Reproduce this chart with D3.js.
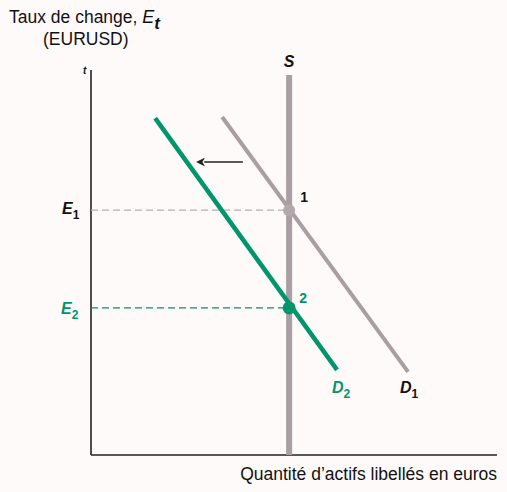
<!DOCTYPE html>
<html><head><meta charset="utf-8">
<script src="https://cdn.jsdelivr.net/npm/d3@7"></script>
<style>body{margin:0;background:#fffafa;}svg{display:block;}text{font-family:"Liberation Sans",Arial,sans-serif;}</style>
</head><body><svg id="c" width="507" height="492"></svg>
<script>
// Data (abstract units 0-100)
const supplyX = 48.8;               // vertical supply S
const supplyTop = 98.7;
const demand1 = [[32.3, 87.8], [78.1, 21.6]];
const demand2 = [[15.8, 87.5], [60.6, 22.1]];
const equilibria = [{name: "E1", label: "1", y: 63.6, color: "#b8aeb1", text: "#111"},
                    {name: "E2", label: "2", y: 38.2, color: "#00956b", text: "#00956b"}];
const shiftArrow = [[37.4, 76.1], [26.4, 76.1]];

const svg = d3.select("#c");
const x = d3.scaleLinear().domain([0, 100]).range([91, 497]);
const y = d3.scaleLinear().domain([0, 100]).range([455, 70]);
const grey = "#a89ea3", green = "#00956b";

// axes
svg.append("line").attr("x1", x(0)).attr("x2", x(0)).attr("y1", y(100)).attr("y2", y(0)).attr("stroke", "#222").attr("stroke-width", 1.6);
svg.append("line").attr("x1", x(0)).attr("x2", x(100)).attr("y1", y(0)).attr("y2", y(0)).attr("stroke", "#222").attr("stroke-width", 1.6);

// dashed guides
equilibria.forEach(e => {
  svg.append("line").attr("x1", x(0)).attr("x2", x(supplyX)).attr("y1", y(e.y)).attr("y2", y(e.y))
    .attr("stroke", e.color).attr("stroke-width", 1.3).attr("stroke-dasharray", "7,4");
});

// supply
svg.append("line").attr("x1", x(supplyX)).attr("x2", x(supplyX)).attr("y1", y(supplyTop)).attr("y2", y(0))
  .attr("stroke", grey).attr("stroke-width", 6);

const line = d3.line().x(d => x(d[0])).y(d => y(d[1]));
svg.append("path").attr("d", line(demand1)).attr("stroke", grey).attr("stroke-width", 4).attr("fill", "none");
svg.append("path").attr("d", line(demand2)).attr("stroke", green).attr("stroke-width", 4.5).attr("fill", "none");

// points
svg.append("circle").attr("cx", x(supplyX)).attr("cy", y(equilibria[0].y)).attr("r", 6).attr("fill", "#b3a9ac");
svg.append("circle").attr("cx", x(supplyX)).attr("cy", y(equilibria[1].y)).attr("r", 6.5).attr("fill", green);

// arrow
const defs = svg.append("defs");
defs.append("marker").attr("id", "ah").attr("viewBox", "0 0 10 10").attr("refX", 1).attr("refY", 5)
  .attr("markerWidth", 8).attr("markerHeight", 6).attr("orient", "auto")
  .append("path").attr("d", "M10,5 L0,0 L3,5 L0,10 Z").attr("fill", "#222");
svg.append("line").attr("x1", x(shiftArrow[0][0])).attr("y1", y(shiftArrow[0][1]))
  .attr("x2", x(shiftArrow[1][0]) + 6).attr("y2", y(shiftArrow[1][1]))
  .attr("stroke", "#222").attr("stroke-width", 1.5).attr("marker-end", "url(#ah)");

// labels
function sub(xx, yy, main, s, color) {
  const t = svg.append("text").attr("x", xx).attr("y", yy).attr("fill", color)
    .attr("font-size", 16).attr("font-style", "italic").attr("font-weight", "bold");
  t.append("tspan").text(main);
  t.append("tspan").attr("dy", 5).attr("font-size", 12).attr("font-style", "normal").text(s);
}
sub(62, 214, "E", "1", "#111");
sub(61, 314, "E", "2", green);
sub(332, 393, "D", "2", green);
sub(400, 393, "D", "1", "#111");

svg.append("text").attr("x", x(supplyX)).attr("y", 67).attr("text-anchor", "middle").attr("font-size", 16)
  .attr("font-style", "italic").attr("font-weight", "bold").attr("fill", "#111").text("S");
svg.append("text").attr("x", 83).attr("y", 74).attr("font-size", 10).attr("font-style", "italic").attr("font-weight", "bold").attr("fill", "#111").text("t");

svg.append("text").attr("x", x(supplyX) + 11).attr("y", y(equilibria[0].y) - 8).attr("font-size", 14)
  .attr("font-weight", "bold").attr("fill", "#111").text(equilibria[0].label);
svg.append("text").attr("x", x(supplyX) + 10).attr("y", y(equilibria[1].y) - 5).attr("font-size", 14)
  .attr("font-weight", "bold").attr("fill", green).text(equilibria[1].label);

// title
const tt = svg.append("text").attr("x", 9).attr("y", 23).attr("font-size", 17.5).attr("fill", "#111");
tt.append("tspan").text("Taux de change, ");
tt.append("tspan").attr("font-style", "italic").attr("font-size", 18).text("E");
tt.append("tspan").attr("font-style", "italic").attr("font-weight", "bold").attr("dy", 6).attr("font-size", 17).text("t");
svg.append("text").attr("x", 43).attr("y", 45).attr("font-size", 17.5).attr("fill", "#111").text("(EURUSD)");

svg.append("text").attr("x", 497).attr("y", 480).attr("text-anchor", "end").attr("font-size", 17.5).attr("fill", "#111")
  .text("Quantité d’actifs libellés en euros");
</script></body></html>
